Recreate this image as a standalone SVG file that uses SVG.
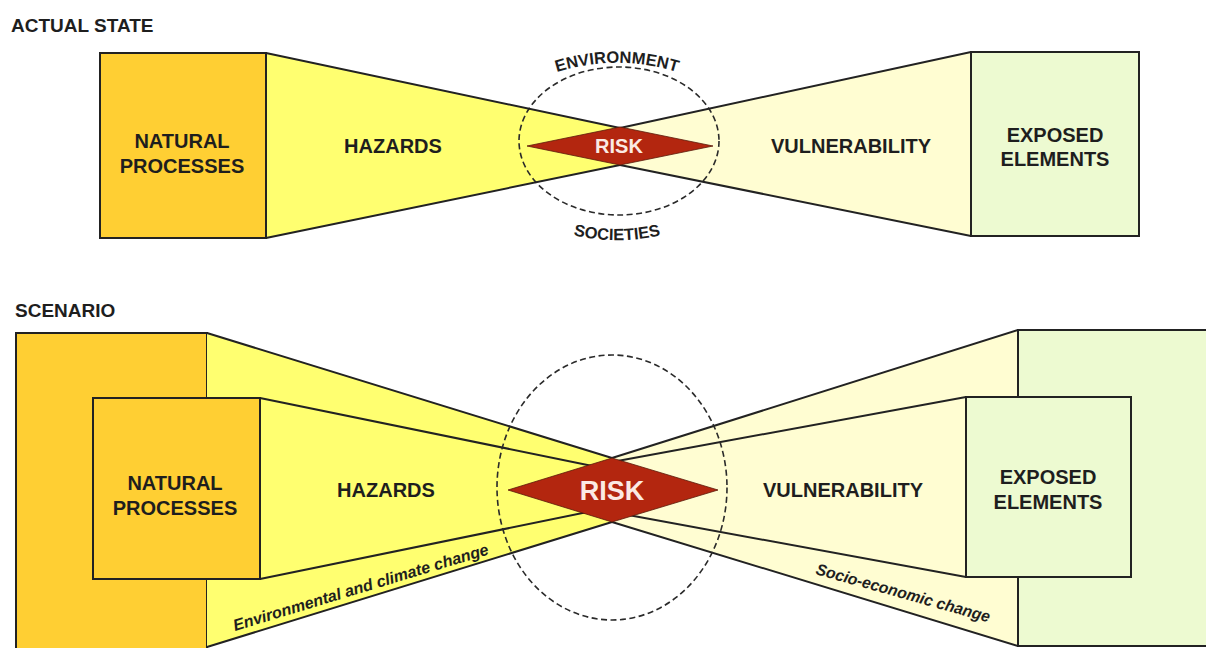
<svg xmlns="http://www.w3.org/2000/svg" width="1206" height="648" viewBox="0 0 1206 648">
<defs>
<style>
.t{font-family:"Liberation Sans",Arial,sans-serif;fill:#1e1e1e}
.b{font-weight:bold;font-size:20px;text-anchor:middle}
.h{font-weight:bold;font-size:19px}
.arc{font-size:16.5px;font-weight:bold}
.ch{font-weight:bold;font-style:italic;font-size:16px}
.risk{font-family:"Liberation Sans",Arial,sans-serif;font-weight:bold;fill:#FBEAE4;text-anchor:middle}
.gold{fill:#FFCF33;stroke:#222;stroke-width:2}
.yel{fill:#FFFF70;stroke:none}
.cream{fill:#FFFDD2;stroke:none}
.green{fill:#EDFAD1;stroke:#222;stroke-width:2}
.ln{stroke:#222;stroke-width:2;fill:none;stroke-linecap:round}
.dash{fill:none;stroke:#2a2a2a;stroke-width:1.6;stroke-dasharray:6 3.5}
.dia{fill:#B3260F;stroke:#5a1a0a;stroke-width:0.8}
</style>
<path id="envArc" d="M 520 88 A 200 200 0 0 1 714 88"/>
<path id="socArc" d="M 550 228 A 190 190 0 0 0 684 228"/>
</defs>
<rect width="1206" height="648" fill="#ffffff"/>

<text class="t h" x="11" y="32">ACTUAL STATE</text>
<text class="t h" x="15" y="317">SCENARIO</text>

<!-- ===== TOP: ACTUAL STATE ===== -->
<g id="top-hazards">
<polygon class="yel" points="266,53 620,128 620,165 266,238"/>
<text class="t b" x="393" y="153">HAZARDS</text>
</g>
<g id="top-vulnerability">
<polygon class="cream" points="971,52 620,128 620,165 971,236"/>
<text class="t b" x="851" y="153">VULNERABILITY</text>
</g>
<g id="top-natural-processes">
<rect class="gold" x="100" y="53" width="166" height="185"/>
<text class="t b" x="182" y="148">NATURAL</text>
<text class="t b" x="182" y="173">PROCESSES</text>
</g>
<g id="top-exposed-elements">
<rect class="green" x="971" y="52" width="168" height="184"/>
<text class="t b" x="1055" y="142">EXPOSED</text>
<text class="t b" x="1055" y="166">ELEMENTS</text>
</g>
<g id="top-context">
<ellipse class="dash" cx="619" cy="141" rx="100" ry="74"/>
<text class="t arc"><textPath href="#envArc" startOffset="50%" text-anchor="middle">ENVIRONMENT</textPath></text>
<text class="t arc"><textPath href="#socArc" startOffset="50%" text-anchor="middle">SOCIETIES</textPath></text>
</g>

<!-- ===== BOTTOM: SCENARIO ===== -->
<g id="bottom-hazards">
<rect class="gold" x="16" y="333" width="191" height="330"/>
<polygon class="yel" points="207,333 612,458 612,522 207,647"/>
<text class="t b" x="386" y="497">HAZARDS</text>
<text class="t ch" transform="translate(235,631) rotate(-16.8)" textLength="266" lengthAdjust="spacingAndGlyphs">Environmental and climate change</text>
</g>
<g id="bottom-vulnerability">
<polygon class="cream" points="1018,330 612,458 612,522 1018,646"/>
<rect class="green" x="1018" y="330" width="200" height="316"/>
<text class="t b" x="843" y="497">VULNERABILITY</text>
<text class="t ch" transform="translate(815,574) rotate(15.6)" textLength="180" lengthAdjust="spacingAndGlyphs">Socio-economic change</text>
</g>
<g id="bottom-natural-processes">
<rect class="gold" x="93" y="398" width="167" height="181"/>
<text class="t b" x="175" y="490">NATURAL</text>
<text class="t b" x="175" y="515">PROCESSES</text>
</g>
<g id="bottom-exposed-elements">
<rect class="green" x="966" y="397" width="165" height="180"/>
<text class="t b" x="1048" y="484">EXPOSED</text>
<text class="t b" x="1048" y="509">ELEMENTS</text>
</g>

<g id="connectors">
<line class="ln" x1="266" y1="53" x2="620" y2="128"/>
<line class="ln" x1="266" y1="238" x2="620" y2="165"/>
<line class="ln" x1="971" y1="52" x2="620" y2="128"/>
<line class="ln" x1="971" y1="236" x2="620" y2="165"/>
<line class="ln" x1="207" y1="333" x2="612" y2="458"/>
<line class="ln" x1="207" y1="647" x2="612" y2="522"/>
<line class="ln" x1="1018" y1="330" x2="612" y2="458"/>
<line class="ln" x1="1018" y1="646" x2="612" y2="522"/>
<line class="ln" x1="260" y1="398" x2="612" y2="470"/>
<line class="ln" x1="260" y1="579" x2="612" y2="507"/>
<line class="ln" x1="966" y1="397" x2="612" y2="462"/>
<line class="ln" x1="966" y1="577" x2="612" y2="512"/>
</g>

<g id="bottom-context">
<ellipse class="dash" cx="612" cy="487.5" rx="115" ry="132.5"/>
</g>

<g id="top-risk">
<polygon class="dia" points="527,146 620,127 713,146 620,165"/>
<text class="risk" x="619" y="153" font-size="20">RISK</text>
</g>
<g id="bottom-risk">
<polygon class="dia" points="508,490 612,458 718,490 612,522"/>
<text class="risk" x="612" y="500" font-size="27">RISK</text>
</g>
</svg>
